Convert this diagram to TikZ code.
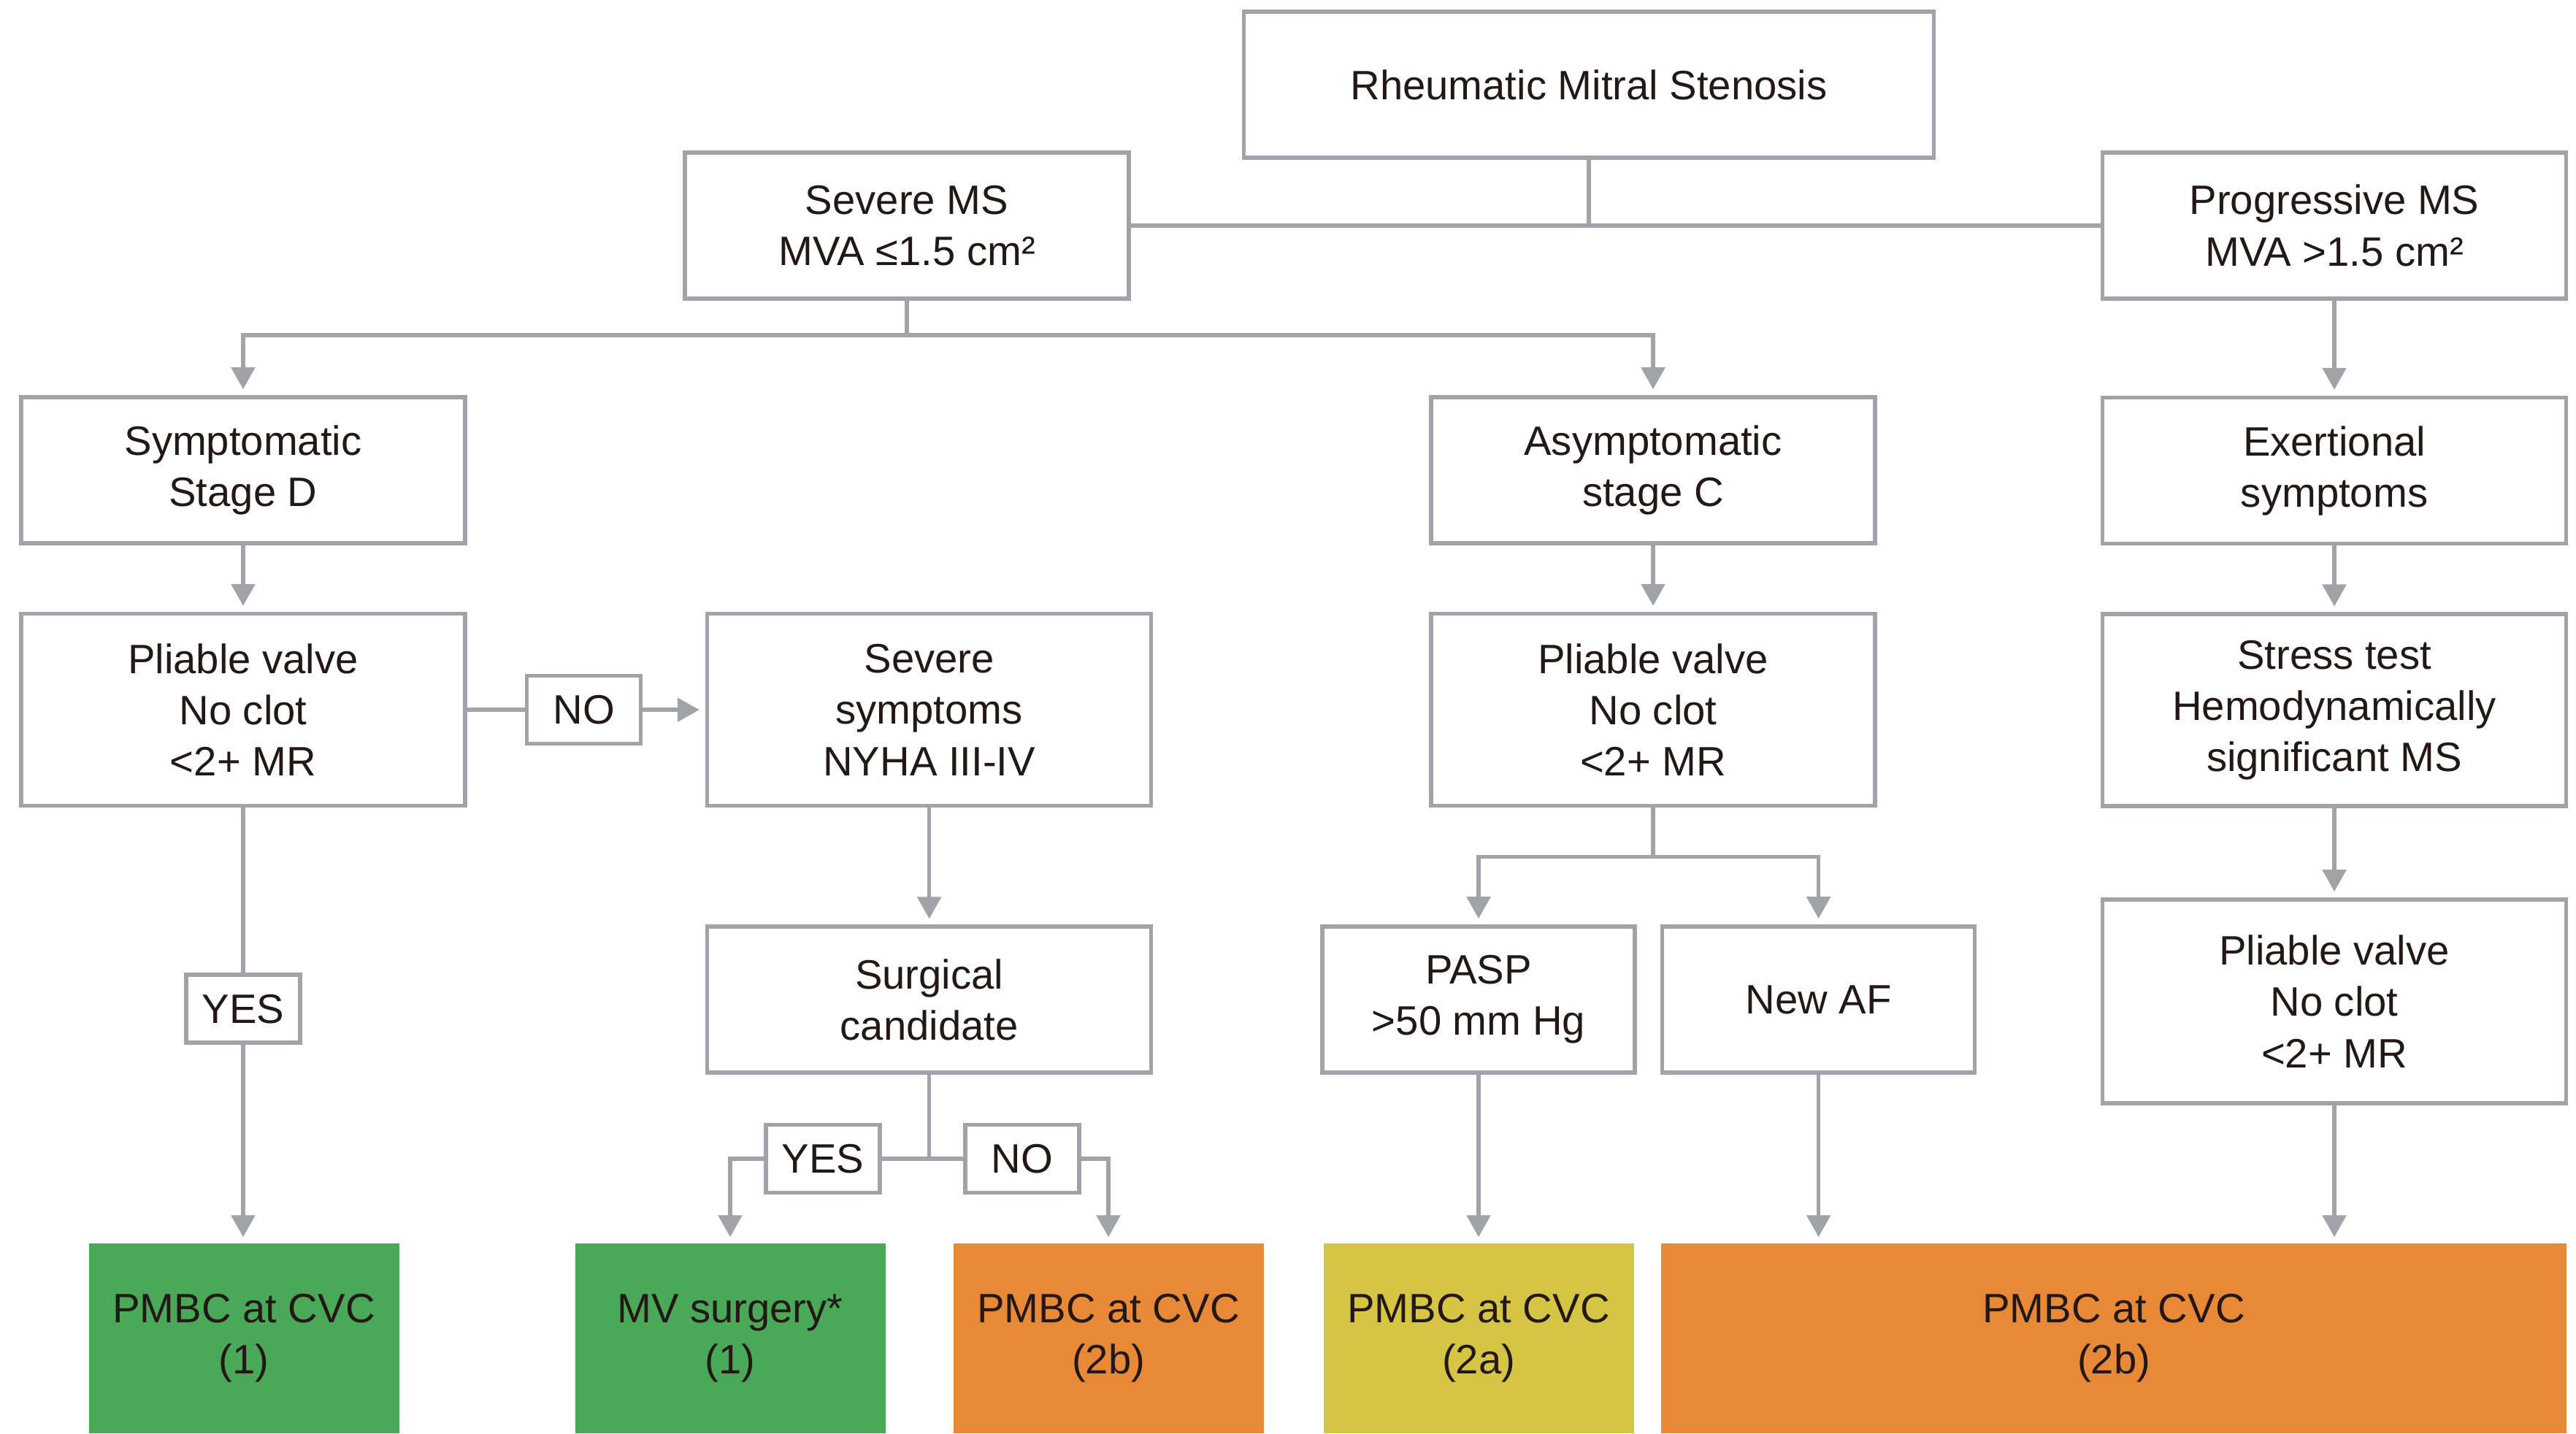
\documentclass[tikz,border=0pt]{standalone}
\usepackage{fontspec}
\setmainfont{Liberation Sans}
\usetikzlibrary{arrows.meta, positioning, calc}
\definecolor{msgray}{RGB}{160,164,168}
\definecolor{mstext}{RGB}{35,24,21}
\definecolor{msgreen}{RGB}{73,169,88}
\definecolor{msorange}{RGB}{232,137,55}
\definecolor{msyellow}{RGB}{214,197,69}

\begin{document}
\begin{tikzpicture}[
    node distance=1.3cm and 0.8cm,
    box/.style={rectangle, draw=msgray, line width=1.6pt, fill=white,
                minimum width=6.08cm, minimum height=2cm,
                font=\fontsize{16}{20}\selectfont, text=mstext, align=center},
    wide/.style={minimum width=6.35cm},
    tall/.style={minimum height=2.63cm},
    lbl/.style={box, minimum width=1.56cm, minimum height=0.93cm, inner sep=2pt},
    res/.style={rectangle, minimum width=4.25cm, minimum height=2.6cm,
                font=\fontsize{16}{20}\selectfont, text=mstext, align=center},
    conn/.style={draw=msgray, line width=1.6pt},
    arr/.style={conn, -{Triangle[width=0.32cm,length=0.3cm]}, shorten >=0.08cm}
  ]
    \useasboundingbox (0,0) rectangle (35.28,-19.63);

    \node[box, minimum width=9.45cm] (root) at (21.76,-1.16) {Rheumatic Mitral Stenosis};
    \node[box] (severe) at (12.42,-3.09) {Severe MS\\MVA ≤1.5 cm²};
    \node[box, wide] (prog) at (31.97,-3.09) {Progressive MS\\MVA >1.5 cm²};

    \node[box] (symp)  at (3.33,-6.44)  {Symptomatic\\Stage D};
    \node[box] (asymp) at (22.64,-6.44) {Asymptomatic\\stage C};
    \node[box, wide, below=of prog] (exert) {Exertional\\symptoms};

    \node[box, tall, below=0.91cm of symp]  (pliable1) {Pliable valve\\No clot\\<2+ MR};
    \node[lbl, right=0.79cm of pliable1]     (no1)      {NO};
    \node[box, tall, right=3.26cm of pliable1] (sevsym) {Severe\\symptoms\\NYHA III-IV};
    \node[box, tall, below=0.91cm of asymp] (pliable2) {Pliable valve\\No clot\\<2+ MR};
    \node[box, wide, tall, below=0.91cm of exert] (stress) {Stress test\\Hemodynamically\\significant MS};

    \node[box, below=1.6cm of sevsym] (surg) {Surgical\\candidate};
    \node[box, minimum width=4.28cm] (pasp) at (20.25,-13.69) {PASP\\>50 mm Hg};
    \node[box, minimum width=4.28cm, right=0.32cm of pasp] (newaf) {New AF};
    \node[box, wide, minimum height=2.79cm, below=1.22cm of stress] (pliable3) {Pliable valve\\No clot\\<2+ MR};

    \node[lbl, below=2.26cm of pliable1] (yes1) {YES};
    \node[lbl] (yes2) at (11.27,-15.87) {YES};
    \node[lbl] (no2)  at (14.0,-15.87)  {NO};

    \node[res, fill=msgreen]  (pmbc1)  at (3.34,-18.33)  {PMBC at CVC\\(1)};
    \node[res, fill=msgreen]  (mvsurg) at (10.0,-18.33)  {MV surgery*\\(1)};
    \node[res, fill=msorange] (pmbc2)  at (15.18,-18.33) {PMBC at CVC\\(2b)};
    \node[res, fill=msyellow] (pmbc3)  at (20.25,-18.33) {PMBC at CVC\\(2a)};
    \node[res, fill=msorange, minimum width=12.4cm] (pmbc4) at (28.95,-18.33) {PMBC at CVC\\(2b)};

    \draw[conn] (root.south) -- (root.south |- severe.east);
    \draw[conn] (severe.east) -- (prog.west);
    \draw[arr] (severe.south) -- ++(0,-0.47) -| (symp.north);
    \draw[arr] (severe.south) -- ++(0,-0.47) -| (asymp.north);
    \draw[arr] (prog) -- (exert);

    \draw[arr] (symp) -- (pliable1);
    \draw[arr] (asymp) -- (pliable2);
    \draw[arr] (exert) -- (stress);

    \draw[conn] (pliable1.east) -- (no1.west);
    \draw[arr] (no1.east) -- (sevsym.west);
    \draw[arr] (sevsym) -- (surg);
    \draw[arr] (pliable2.south) -- ++(0,-0.67) -| (pasp.north);
    \draw[arr] (pliable2.south) -- ++(0,-0.67) -| (newaf.north);
    \draw[arr] (stress) -- (pliable3);

    \draw[conn] (pliable1) -- (yes1);
    \draw[arr] (yes1.south) -- (yes1.south |- pmbc1.north);
    \draw[conn] (surg.south) |- (yes2.east);
    \draw[conn] (surg.south) |- (no2.west);
    \draw[arr] (yes2.west) -| (mvsurg.north);
    \draw[arr] (no2.east) -| (pmbc2.north);
    \draw[arr] (pasp) -- (pmbc3);
    \draw[arr] (newaf.south) -- (newaf.south |- pmbc4.north);
    \draw[arr] (pliable3.south) -- (pliable3.south |- pmbc4.north);

  \end{tikzpicture}
\end{document}
